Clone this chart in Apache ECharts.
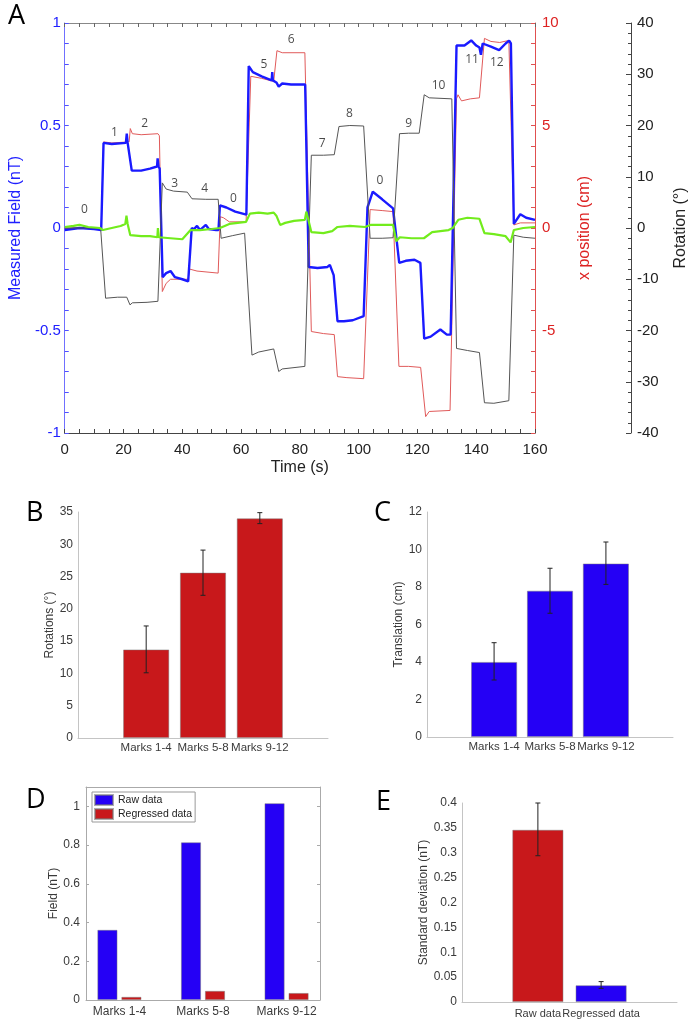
<!DOCTYPE html>
<html>
<head>
<meta charset="utf-8">
<script src="https://cdn.jsdelivr.net/npm/echarts@6/dist/echarts.min.js"></script>
<style>
  html, body { margin: 0; padding: 0; background: #fff; }
  #main { width: 697px; height: 1022px; }
</style>
</head>
<body>
<div id="main"></div>
<script>
// ---- panel A: traces, [time s, value] ----
const measuredField = [
  [0, -0.01], [5, 0.0], [10, -0.005], [12.4, -0.01], [13.2, 0.415], [16, 0.41], [20.8, 0.415], [21.1, 0.46],
  [21.4, 0.415], [21.9, 0.41], [22.8, 0.28], [26, 0.28], [29, 0.29], [31.4, 0.3], [31.6, 0.34], [31.9, 0.3],
  [32.3, 0.29], [33.3, -0.24], [34.5, -0.22], [36, -0.21], [37.5, -0.24], [40, -0.25], [42, -0.26], [43.2, 0.0],
  [44, -0.005], [45, 0.01], [46, -0.01], [48, 0.015], [49, -0.005], [51.5, -0.01], [52.3, -0.01], [52.8, 0.11],
  [55, 0.1], [58, 0.08], [61.8, 0.065], [62.6, 0.79], [64, 0.76], [67, 0.74], [70.4, 0.72], [70.6, 0.76],
  [70.8, 0.72], [72, 0.71], [72.8, 0.69], [74, 0.705], [77, 0.7], [81.8, 0.7], [83, -0.19], [86, -0.195],
  [89.4, -0.19], [90.2, -0.18], [91.5, -0.23], [92.8, -0.455], [95, -0.455], [98, -0.45], [101.7, -0.43],
  [103, 0.1], [104.8, 0.177], [108, 0.14], [111.7, 0.096], [113.8, -0.17], [116, -0.16], [119, -0.155],
  [121, -0.17], [122.3, -0.54], [124.5, -0.53], [127.8, -0.495], [130, -0.52], [131.3, -0.52], [133.3, 0.89],
  [136, 0.89], [138.3, 0.915], [140, 0.89], [141.1, 0.88], [141.6, 0.845], [142.2, 0.9], [145, 0.885],
  [147.8, 0.868], [150, 0.9], [151.2, 0.914], [151.8, 0.9], [152.8, 0.02], [155, 0.067], [157, 0.05], [160, 0.04]
];
const xPosition = [
  [0, 0.0], [12.4, 0.0], [13.2, 4.2], [16, 4.15], [21.9, 4.2], [22.3, 4.85], [23, 4.6], [26, 4.55], [31.7, 4.6],
  [32.2, 4.5], [33.2, -3.1], [34.5, -2.7], [36, -2.5], [42, -2.5], [42.4, -2.0], [45, -2.1], [52.2, -2.2],
  [52.9, 0.55], [54, 0.5], [56, 0.3], [61.7, 0.3], [63.3, 7.4], [67, 7.3], [71.1, 7.15], [72.2, 8.65], [74, 8.55],
  [81.7, 8.55], [83.9, -5.05], [88, -5.15], [91.7, -5.2], [92.8, -7.25], [96, -7.3], [101.7, -7.35], [103.9, 0.9],
  [108, 0.85], [111.7, 0.8], [113.7, -6.75], [117, -6.75], [121.1, -6.8], [122.8, -9.2], [124, -8.95],
  [131.1, -8.9], [133.3, 6.3], [133.8, 6.5], [135, 6.2], [138, 6.3], [141.1, 6.35], [142.8, 9.25], [145, 9.1],
  [148, 9.05], [151.1, 9.15], [152.8, 0.15], [155, 0.25], [160, 0.25]
];
const rotation = [
  [0, 0], [12.2, 0], [13.9, -13.7], [18, -13.5], [21.1, -13.5], [22.2, -15], [23, -14.6], [28, -14.5],
  [31.7, -14.3], [33.2, 8.8], [34.5, 7.6], [37, 7.2], [41.7, 7.0], [43.3, 5.7], [48, 5.6], [52.2, 5.6],
  [53.2, -2.0], [57, -1.5], [61.2, -1.0], [63.7, -24.8], [66, -24.2], [71.1, -23.6], [72.8, -28.0], [74, -27.5],
  [81.7, -27.0], [83.9, 14.2], [88, 14.2], [91.7, 14.3], [93.3, 19.8], [97, 20.0], [101.7, 19.9], [103.9, -2.0],
  [108, -2.0], [111.7, -1.9], [113.9, 18.4], [117, 18.5], [120.6, 18.5], [122.3, 26.0], [124, 25.4],
  [131.7, 25.2], [133.3, -23.5], [137, -23.9], [141.1, -24.3], [142.8, -34.1], [146, -34.2], [151.1, -33.7],
  [152.8, -1.4], [156, -1.8], [160, -2.0]
];
const regressedField = [
  [0, 0.005], [3, 0.01], [5, 0.015], [8, 0.005], [12, 0.0], [13, -0.01], [16, 0.0], [19, 0.01], [20.6, 0.02],
  [21, 0.06], [21.4, 0.02], [22.3, -0.035], [26, -0.04], [29, -0.04], [31.5, -0.045], [31.7, 0.0], [32, -0.045],
  [36, -0.05], [40, -0.055], [42.8, -0.01], [46, -0.01], [50, -0.005], [52.8, 0.0], [56, 0.02], [61.7, 0.03],
  [63, 0.07], [66, 0.075], [69, 0.07], [71.1, 0.075], [72, 0.06], [73.3, 0.015], [75, 0.025], [78, 0.035],
  [81.7, 0.04], [82.2, 0.08], [83.9, -0.02], [88, -0.025], [91, -0.015], [92.8, 0.005], [97, 0.01],
  [102.2, 0.005], [104, 0.015], [108, 0.015], [111.7, 0.015], [112.8, -0.065], [114, -0.045], [118, -0.05],
  [122.2, -0.05], [125, -0.02], [130.6, -0.01], [132, 0.0], [133.9, 0.04], [137, 0.05], [141.1, 0.045],
  [142.8, -0.025], [146, -0.03], [150, -0.04], [151.7, -0.07], [152.8, -0.01], [156, 0.0], [160, 0.005]
];
const markTimes = [6.7, 16.9, 27.2, 37.4, 47.6, 57.4, 67.8, 77, 87.6, 96.9, 107.2, 117, 127.2, 138.6, 147];
const markLevels = [0.088, 0.465, 0.51, 0.215, 0.194, 0.145, 0.795, 0.92, 0.413, 0.559, 0.231, 0.51, 0.694, 0.82, 0.808];
const markTexts = ['0', '1', '2', '3', '4', '0', '5', '6', '7', '8', '0', '9', '10', '11', '12'];

// ---- panels B, C, D ----
const markGroups = ['Marks 1-4', 'Marks 5-8', 'Marks 9-12'];
const rotMean = [13.7, 25.6, 34.0];
const rotLow = [10.1, 22.1, 33.2];
const rotHigh = [17.35, 29.1, 34.9];
const transMean = [4.0, 7.8, 9.25];
const transLow = [3.04, 6.6, 8.14];
const transHigh = [5.03, 9.0, 10.4];
const fieldRaw = [0.362, 0.814, 1.016];
const fieldRegressed = [0.016, 0.047, 0.036];

// ---- panel E ----
const stdGroups = ['Raw data', 'Regressed data'];
const stdMean = [0.346, 0.0335];
const stdLow = [0.294, 0.0274];
const stdHigh = [0.40, 0.041];

const RED = '#c8181b';
const BLUE = '#2500f5';
const AX = '#c4c4c4';
const LBL = '#3a3a3a';
const FONT = 'Liberation Sans, Arial, sans-serif';

const chart = echarts.init(document.getElementById('main'));

function errRender(params, api) {
  const x = api.value(0);
  const p1 = api.coord([x, api.value(1)]);
  const p2 = api.coord([x, api.value(2)]);
  const w = 2.5;
  const st = { stroke: '#222', lineWidth: 1 };
  return {
    type: 'group',
    children: [
      { type: 'line', shape: { x1: p1[0], y1: p1[1], x2: p2[0], y2: p2[1] }, style: st },
      { type: 'line', shape: { x1: p1[0] - w, y1: p1[1], x2: p1[0] + w, y2: p1[1] }, style: st },
      { type: 'line', shape: { x1: p2[0] - w, y1: p2[1], x2: p2[0] + w, y2: p2[1] }, style: st }
    ]
  };
}

function errSeries(xi, yi, lows, highs) {
  return {
    type: 'custom', xAxisIndex: xi, yAxisIndex: yi, renderItem: errRender, z: 5,
    encode: { x: 0, y: [1, 2] },
    data: lows.map((lo, i) => [i + 1, lo, highs[i]])
  };
}

function barXAxis(grid, min, max, names, margin, size) {
  return {
    type: 'value', gridIndex: grid, min: min, max: max,
    axisLine: { onZero: false, lineStyle: { color: AX } },
    axisTick: { show: false },
    splitLine: { show: false },
    axisLabel: {
      customValues: names.map((n, i) => i + 1),
      formatter: v => names[Math.round(v) - 1] || '',
      hideOverlap: false, showMinLabel: true, showMaxLabel: true,
      color: LBL, fontSize: size || 12, fontFamily: FONT, margin: margin
    }
  };
}

function barYAxis(grid, max, interval, name, gap) {
  return {
    type: 'value', gridIndex: grid, min: 0, max: max, interval: interval,
    name: name, nameLocation: 'middle', nameRotate: 90, nameGap: gap,
    nameTextStyle: { color: LBL, fontSize: 12, fontFamily: FONT },
    axisLine: { show: true, onZero: false, lineStyle: { color: AX } },
    axisTick: { show: false },
    splitLine: { show: false },
    axisLabel: { color: LBL, fontSize: 12, fontFamily: FONT, margin: 5 }
  };
}

const letterStyle = (t) => ({ text: t, fill: '#000', font: '27px "Open Sans", sans-serif' });

const option = {
  animation: false,
  backgroundColor: '#fff',
  textStyle: { fontFamily: FONT },
  graphic: [
    { type: 'text', left: 8, top: 3, style: letterStyle('A') },
    { type: 'text', left: 26, top: 500, style: letterStyle('B') },
    { type: 'text', left: 374, top: 500, style: letterStyle('C') },
    { type: 'text', left: 26, top: 787, style: letterStyle('D') },
    { type: 'text', left: 376, top: 789, style: letterStyle('E') }
  ],
  legend: {
    data: ['Raw data', 'Regressed data'],
    orient: 'vertical', left: 92, top: 792,
    itemWidth: 18, itemHeight: 10, itemGap: 2,
    padding: [2, 3, 2, 2],
    borderColor: '#999', borderWidth: 1, borderRadius: 0,
    icon: 'rect',
    textStyle: { fontSize: 10.5, color: '#222', fontFamily: FONT }
  },
  grid: [
    { left: 60, top: 23, width: 480, height: 410 },
    { left: 78, top: 512, width: 250, height: 226 },
    { left: 427, top: 512, width: 246, height: 225 },
    { left: 86, top: 787, width: 234, height: 213 },
    { left: 462, top: 803, width: 215, height: 199 }
  ],
  xAxis: [
    // 0: A bottom
    {
      type: 'value', gridIndex: 0, min: 0, max: 160, interval: 20,
      name: 'Time (s)', nameLocation: 'middle', nameGap: 27,
      nameTextStyle: { color: '#222', fontSize: 16, fontFamily: FONT },
      axisLine: { onZero: false, lineStyle: { color: '#444' } },
      axisTick: { inside: true, length: 4, lineStyle: { color: '#444' } },
      minorTick: { show: true, splitNumber: 4, length: 4, lineStyle: { color: '#444' } },
      splitLine: { show: false },
      axisLabel: { color: '#222', fontSize: 15, fontFamily: FONT, margin: 9 }
    },
    // 1: A top box
    {
      type: 'value', gridIndex: 0, position: 'top', min: 0, max: 160, interval: 20,
      axisLine: { onZero: false, lineStyle: { color: '#888' } },
      axisTick: { inside: true, length: 4, lineStyle: { color: '#666' } },
      minorTick: { show: true, splitNumber: 4, length: 4, lineStyle: { color: '#666' } },
      splitLine: { show: false },
      axisLabel: { show: false }
    },
    barXAxis(1, -0.2, 4.2, markGroups, 4, 11.5),
    barXAxis(2, -0.2, 4.2, markGroups, 4, 11.5),
    Object.assign(barXAxis(3, 0.6, 3.4, markGroups, 6), { axisLine: { onZero: false, lineStyle: { color: '#aaa' } } }),
    {
      type: 'value', gridIndex: 3, position: 'top', min: 0.6, max: 3.4,
      axisLine: { onZero: false, lineStyle: { color: '#aaa' } }, axisTick: { show: false },
      axisLabel: { show: false }, splitLine: { show: false }
    },
    barXAxis(4, -0.2, 3.2, stdGroups, 6, 11)
  ],
  yAxis: [
    // 0: A left field
    {
      type: 'value', gridIndex: 0, min: -1, max: 1, interval: 0.5,
      name: 'Measured Field (nT)', nameLocation: 'middle', nameRotate: 90, nameGap: 32,
      nameTextStyle: { color: '#2020ff', fontSize: 16, fontFamily: FONT },
      axisLine: { onZero: false, lineStyle: { color: '#7070ff' } },
      axisTick: { inside: true, length: 4, lineStyle: { color: '#5050ff' } },
      minorTick: { show: true, splitNumber: 5, length: 4, lineStyle: { color: '#5050ff' } },
      splitLine: { show: false },
      axisLabel: { color: '#2020ff', fontSize: 15, fontFamily: FONT, margin: 4 }
    },
    // 1: A right x position
    {
      type: 'value', gridIndex: 0, position: 'right', min: -10, max: 10, interval: 5,
      name: 'x position (cm)', nameLocation: 'middle', nameRotate: 90, nameGap: 42,
      nameTextStyle: { color: '#dd2222', fontSize: 16, fontFamily: FONT },
      axisLine: { onZero: false, lineStyle: { color: '#e05050' } },
      axisTick: { inside: true, length: 4, lineStyle: { color: '#e05050' } },
      minorTick: { show: true, splitNumber: 5, length: 4, lineStyle: { color: '#e05050' } },
      splitLine: { show: false },
      axisLabel: { color: '#dd2222', fontSize: 15, fontFamily: FONT, margin: 7, showMinLabel: false }
    },
    // 2: A rotation, offset
    {
      type: 'value', gridIndex: 0, position: 'right', offset: 96, min: -40, max: 40, interval: 10,
      name: 'Rotation (°)', nameLocation: 'middle', nameRotate: 90, nameGap: 42,
      nameTextStyle: { color: '#222', fontSize: 16, fontFamily: FONT },
      axisLine: { onZero: false, lineStyle: { color: '#444' } },
      axisTick: { inside: true, length: 5, lineStyle: { color: '#444' } },
      minorTick: { show: true, splitNumber: 5, length: 3, lineStyle: { color: '#444' } },
      splitLine: { show: false },
      axisLabel: { color: '#222', fontSize: 15, fontFamily: FONT, margin: 6 }
    },
    barYAxis(1, 35, 5, 'Rotations (°)', 20),
    barYAxis(2, 12, 2, 'Translation (cm)', 21),
    Object.assign(barYAxis(3, 1.1, 0.2, 'Field (nT)', 20), {
      axisLine: { show: true, onZero: false, lineStyle: { color: '#aaa' } },
      axisTick: { show: true, inside: true, length: 3, lineStyle: { color: '#aaa' } },
      axisLabel: { color: LBL, fontSize: 12, fontFamily: FONT, margin: 6, showMaxLabel: false }
    }),
    {
      type: 'value', gridIndex: 3, position: 'right', min: 0, max: 1.1, interval: 0.2,
      axisLine: { show: true, onZero: false, lineStyle: { color: '#aaa' } },
      axisTick: { show: true, inside: true, length: 3, lineStyle: { color: '#aaa' } },
      axisLabel: { show: false }, splitLine: { show: false }
    },
    barYAxis(4, 0.4, 0.05, 'Standard deviation (nT)', 28)
  ],
  series: [
    // A
    {
      type: 'line', xAxisIndex: 0, yAxisIndex: 1, data: xPosition, showSymbol: false, z: 2,
      lineStyle: { color: '#e05a5a', width: 1 }
    },
    {
      type: 'line', xAxisIndex: 0, yAxisIndex: 0, data: measuredField, showSymbol: false, z: 3,
      lineStyle: { color: '#1a1aff', width: 2.4 }
    },
    {
      type: 'line', xAxisIndex: 0, yAxisIndex: 2, data: rotation, showSymbol: false, z: 4,
      lineStyle: { color: '#555', width: 1 }
    },
    {
      type: 'line', xAxisIndex: 0, yAxisIndex: 0, data: regressedField, showSymbol: false, z: 5,
      lineStyle: { color: '#72ec1c', width: 2.2 }
    },
    {
      type: 'scatter', xAxisIndex: 0, yAxisIndex: 0, symbolSize: 0, z: 6,
      data: markTimes.map((t, i) => ({ value: [t, markLevels[i]], name: markTexts[i] })),
      label: {
        show: true, position: 'inside', formatter: p => p.name,
        color: '#1a1a1a', fontSize: 12, fontFamily: '"Open Sans", sans-serif'
      }
    },
    // B
    {
      type: 'bar', xAxisIndex: 2, yAxisIndex: 3, barWidth: 46,
      itemStyle: { color: RED, borderColor: 'rgba(120,120,120,0.6)', borderWidth: 0.8 },
      data: rotMean.map((v, i) => [i + 1, v])
    },
    errSeries(2, 3, rotLow, rotHigh),
    // C
    {
      type: 'bar', xAxisIndex: 3, yAxisIndex: 4, barWidth: 46,
      itemStyle: { color: BLUE, borderColor: 'rgba(120,120,120,0.6)', borderWidth: 0.8 },
      data: transMean.map((v, i) => [i + 1, v])
    },
    errSeries(3, 4, transLow, transHigh),
    // D
    {
      type: 'bar', name: 'Raw data', xAxisIndex: 4, yAxisIndex: 5, barWidth: 20, barGap: '20%',
      itemStyle: { color: BLUE, borderColor: 'rgba(120,120,120,0.6)', borderWidth: 0.8 },
      data: fieldRaw.map((v, i) => [i + 1, v])
    },
    {
      type: 'bar', name: 'Regressed data', xAxisIndex: 4, yAxisIndex: 5, barWidth: 20, barGap: '20%',
      itemStyle: { color: RED, borderColor: 'rgba(120,120,120,0.6)', borderWidth: 0.8 },
      data: fieldRegressed.map((v, i) => [i + 1, v])
    },
    // E
    {
      type: 'bar', xAxisIndex: 6, yAxisIndex: 7, barWidth: 51,
      itemStyle: { borderColor: 'rgba(120,120,120,0.6)', borderWidth: 0.8 },
      data: stdMean.map((v, i) => ({ value: [i + 1, v], itemStyle: { color: i === 0 ? RED : BLUE } }))
    },
    errSeries(6, 7, stdLow, stdHigh)
  ]
};

chart.setOption(option);
</script>
</body>
</html>
